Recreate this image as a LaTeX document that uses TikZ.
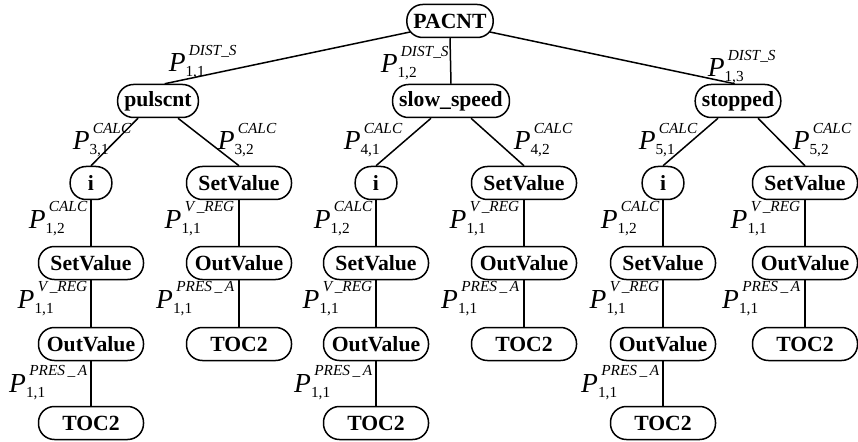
\documentclass[tikz,border=0pt]{standalone}
\usepackage{fontspec}
\setmainfont{Liberation Serif}

\newcommand{\scrsize}{\fontsize{9.2}{10}\selectfont}
\newcommand{\plbl}[2]{\textit{P}\ooalign{\hskip2pt\raisebox{10pt}{\scrsize\itshape #1}\cr\raisebox{-3pt}{\scrsize #2}\cr}}

\begin{document}
\begin{tikzpicture}[x=0.6pt, y=-0.6pt, line width=0.9pt,
  stbox/.style={draw, rounded corners=9.5pt, minimum height=19.8pt, inner xsep=4pt, inner ysep=0pt, font=\fontsize{13}{15}\selectfont\bfseries},
  opbox/.style={stbox, minimum width=63pt},
  varbox/.style={stbox, minimum width=25pt},
  lbl/.style={inner sep=0pt, font=\fontsize{16.5}{18}\selectfont}]
  \useasboundingbox (0,0) rectangle (858,442);
  % Root and states
  \node[stbox] (pacnt) at (450,21) {PACNT};
  \node[stbox] (pulscnt) at (158,101) {pulscnt};
  \node[stbox] (slow) at (451,101) {slow\_speed};
  \node[stbox] (stopped) at (738,101) {stopped};
  \draw ([xshift=2.4pt,yshift=-6.6pt]pacnt.west) -- ([xshift=4pt]pulscnt.north);
  \draw (pacnt.south) -- (slow.north);
  \draw ([xshift=-2.4pt,yshift=-6.6pt]pacnt.east) -- ([xshift=-2pt]stopped.north);
  \node[lbl, anchor=base west] (l11) at (168,72) {\plbl{DIST\_S}{1,1}};
  \node[lbl, anchor=base west] (l12) at (380,73) {\plbl{DIST\_S}{1,2}};
  \node[lbl, anchor=base west] (l13) at (707,77) {\plbl{DIST\_S}{1,3}};
  % Branch pulscnt
  \node[varbox] (i1) at (91,183) {i};
  \node[opbox] (sv1) at (239,183) {SetValue};
  \node[opbox] (sv1b) at (91,263) {SetValue};
  \node[opbox] (ov1) at (239,263) {OutValue};
  \node[opbox] (ov1b) at (91,344) {OutValue};
  \node[opbox] (toc1) at (239,344) {TOC2};
  \node[opbox] (toc1b) at (91,423) {TOC2};
  \draw ([xshift=-12pt]pulscnt.south) -- (i1.north);
  \draw ([xshift=12pt]pulscnt.south) -- (sv1.north);
  \draw (i1) -- (sv1b) -- (ov1b) -- (toc1b);
  \draw (sv1) -- (ov1) -- (toc1);
  \node[lbl, anchor=base west] (l31) at (72,150) {\plbl{CALC}{3,1}};
  \node[lbl, anchor=base west] (l32) at (217,150) {\plbl{CALC}{3,2}};
  \node[lbl, anchor=base east] at (88,228) {\plbl{CALC}{1,2}};
  \node[lbl, anchor=base east] at (235,228) {\plbl{V\,\_REG}{1,1}};
  \node[lbl, anchor=base east] at (88,308) {\plbl{V\,\_REG}{1,1}};
  \node[lbl, anchor=base east] at (235,308) {\plbl{PRES\,\_\,A}{1,1}};
  \node[lbl, anchor=base east] at (88,392) {\plbl{PRES\,\_\,A}{1,1}};
  % Branch slow_speed
  \node[varbox] (i2) at (376,183) {i};
  \node[opbox] (sv2) at (524,183) {SetValue};
  \node[opbox] (sv2b) at (376,263) {SetValue};
  \node[opbox] (ov2) at (524,263) {OutValue};
  \node[opbox] (ov2b) at (376,344) {OutValue};
  \node[opbox] (toc2) at (524,344) {TOC2};
  \node[opbox] (toc2b) at (376,423) {TOC2};
  \draw ([xshift=-12pt]slow.south) -- (i2.north);
  \draw ([xshift=12pt]slow.south) -- (sv2.north);
  \draw (i2) -- (sv2b) -- (ov2b) -- (toc2b);
  \draw (sv2) -- (ov2) -- (toc2);
  \node[lbl, anchor=base west] (l41) at (343,150) {\plbl{CALC}{4,1}};
  \node[lbl, anchor=base west] (l42) at (513,150) {\plbl{CALC}{4,2}};
  \node[lbl, anchor=base east] at (373,228) {\plbl{CALC}{1,2}};
  \node[lbl, anchor=base east] at (520,228) {\plbl{V\,\_REG}{1,1}};
  \node[lbl, anchor=base east] at (373,308) {\plbl{V\,\_REG}{1,1}};
  \node[lbl, anchor=base east] at (520,308) {\plbl{PRES\,\_\,A}{1,1}};
  \node[lbl, anchor=base east] at (373,392) {\plbl{PRES\,\_\,A}{1,1}};
  % Branch stopped
  \node[varbox] (i3) at (663,183) {i};
  \node[opbox] (sv3) at (805,183) {SetValue};
  \node[opbox] (sv3b) at (663,263) {SetValue};
  \node[opbox] (ov3) at (805,263) {OutValue};
  \node[opbox] (ov3b) at (663,344) {OutValue};
  \node[opbox] (toc3) at (805,344) {TOC2};
  \node[opbox] (toc3b) at (663,423) {TOC2};
  \draw ([xshift=-12pt]stopped.south) -- (i3.north);
  \draw ([xshift=12pt]stopped.south) -- (sv3.north);
  \draw (i3) -- (sv3b) -- (ov3b) -- (toc3b);
  \draw (sv3) -- (ov3) -- (toc3);
  \node[lbl, anchor=base west] (l51) at (638,150) {\plbl{CALC}{5,1}};
  \node[lbl, anchor=base west] (l52) at (792,150) {\plbl{CALC}{5,2}};
  \node[lbl, anchor=base east] at (660,228) {\plbl{CALC}{1,2}};
  \node[lbl, anchor=base east] at (801,228) {\plbl{V\,\_REG}{1,1}};
  \node[lbl, anchor=base east] at (660,308) {\plbl{V\,\_REG}{1,1}};
  \node[lbl, anchor=base east] at (801,308) {\plbl{PRES\,\_\,A}{1,1}};
  \node[lbl, anchor=base east] at (660,392) {\plbl{PRES\,\_\,A}{1,1}};
\end{tikzpicture}
\end{document}
